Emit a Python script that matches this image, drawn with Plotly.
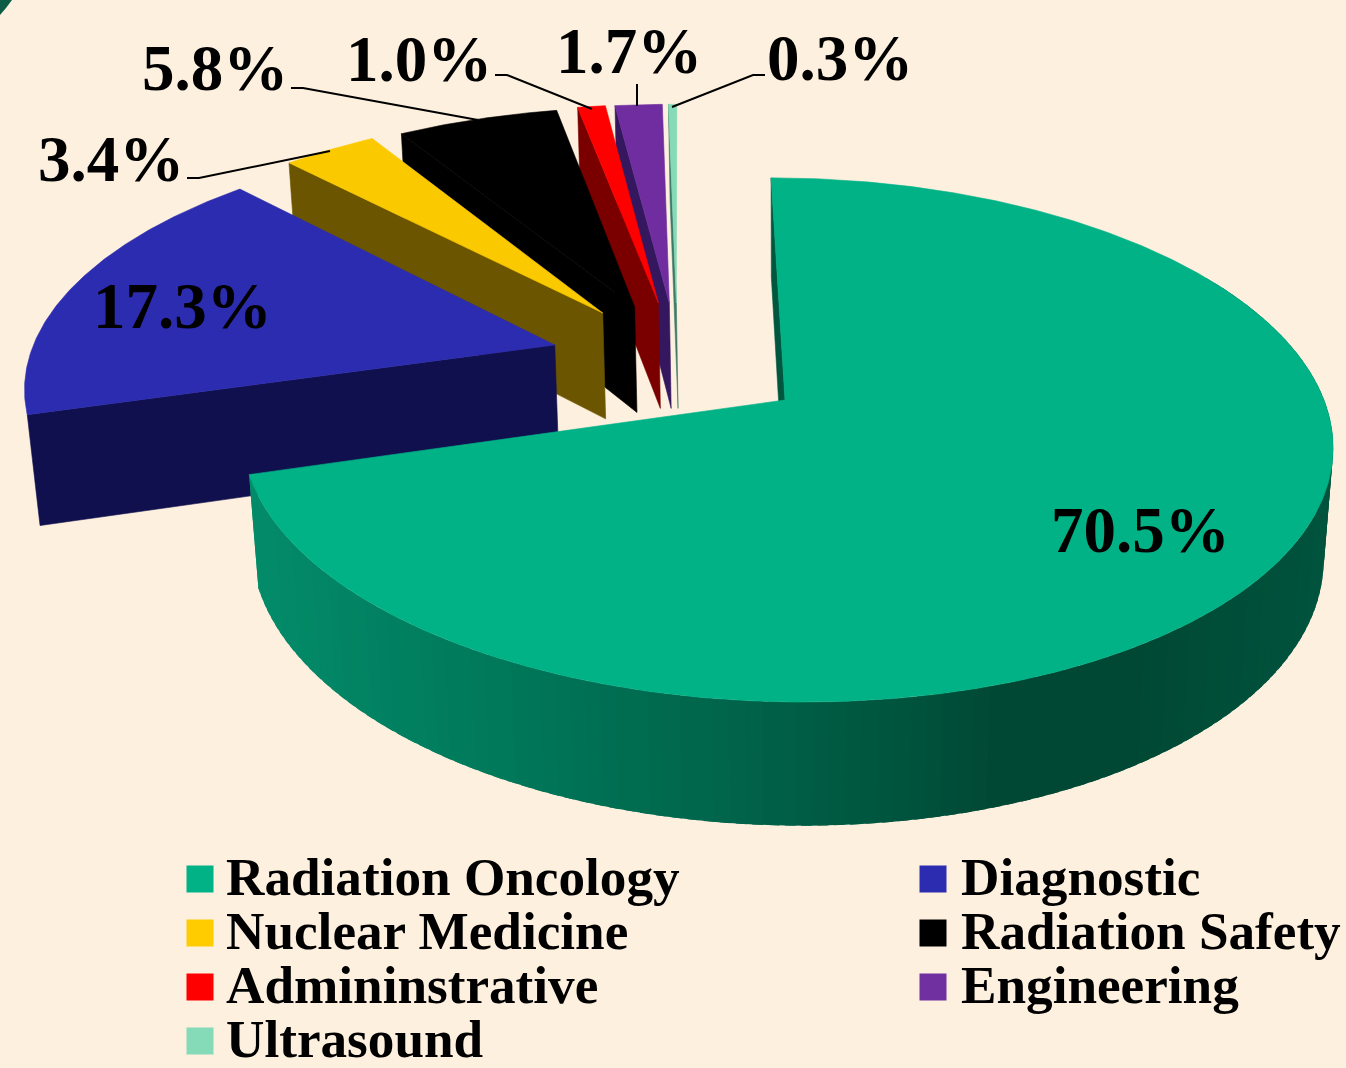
import math
import plotly.graph_objects as go

# ---- data ----
categories = ["Radiation Oncology", "Diagnostic", "Nuclear Medicine", "Radiation Safety",
              "Admininstrative", "Engineering", "Ultrasound"]
percent = [70.5, 17.3, 3.4, 5.8, 1.0, 1.7, 0.3]
labels = ["70.5%", "17.3%", "3.4%", "5.8%", "1.0%", "1.7%", "0.3%"]

# ---- style ----
top_colors = ["#01B287", "#2C2CB0", "#FBC900", "#000000", "#FF0000", "#6F2DA0", "#85DAB8"]
side_colors = ["#00573F", "#10104E", "#6B5500", "#000000", "#7A0000", "#35175F", "#3F7A68"]
swatch_colors = ["#01B287", "#2C2CB0", "#FFCC00", "#000000", "#FF0000", "#7030A0", "#85DAB8"]
BG = "#FDF0DF"
FONT = "Liberation Serif"

# explode offsets of each slice in the pie's own plane (unit radius)
pull_u = [0.0, -0.435, -0.346, -0.284, -0.2374, -0.2158, -0.202]
pull_v = [0.0, -0.222, -0.3585, -0.385, -0.402, -0.402, -0.402]

# perspective projection of the tilted pie
CX, CY, RX, RY, K, SKEW, DEPTH, DEPTH_W = 785.0, 400.0, 539.0, 256.0, 0.1525, 0.0625, 112.0, 0.017


def project(u, v, lower=False):
    w = 1 - K * v
    if lower:
        w += DEPTH_W
        return CX + RX * u / w + SKEW * RY * v / w, CY + (RY * v + DEPTH) / w
    return CX + RX * u / w + SKEW * RY * v / w, CY + RY * v / w


def rim(a):
    r = math.radians(a)
    return math.sin(r), -math.cos(r)


def poly(fig, pts, color, width=0.6):
    fig.add_trace(go.Scatter(
        x=[p[0] for p in pts] + [pts[0][0]], y=[p[1] for p in pts] + [pts[0][1]],
        mode="lines", fill="toself", fillcolor=color,
        line=dict(color=color, width=width), hoverinfo="skip", showlegend=False))


# rim shade of the large slice, by screen x
shade_x = [250, 500, 750, 900, 1000, 1120, 1333]
shade_rgb = [(4, 140, 106), (0, 120, 90), (0, 98, 73), (0, 84, 62), (0, 72, 52), (0, 72, 52), (0, 84, 62)]


def shade(x):
    x = min(max(x, shade_x[0]), shade_x[-1])
    for i in range(len(shade_x) - 1):
        if x <= shade_x[i + 1]:
            t = (x - shade_x[i]) / (shade_x[i + 1] - shade_x[i])
            c = [shade_rgb[i][j] + t * (shade_rgb[i + 1][j] - shade_rgb[i][j]) for j in range(3)]
            return "rgb(%d,%d,%d)" % tuple(c)
    return "rgb(0,84,62)"


total = sum(percent)
starts, ends = [], []
acc = 0.0
for p in percent:
    starts.append(360 * acc / total)
    acc += p
    ends.append(360 * acc / total)

fig = go.Figure()

# back to front: small slices first, large slice last
for i in range(len(percent) - 1, -1, -1):
    pu, pv = pull_u[i], pull_v[i]
    a0, a1 = starts[i], ends[i]
    n = max(4, int((a1 - a0) / 0.5))
    arc = [a0 + (a1 - a0) * j / n for j in range(n + 1)]
    su, sv = rim(a0)
    su, sv = su + pu, sv + pv
    # radial cut face of the slice
    poly(fig, [project(su, sv), project(pu, pv), project(pu, pv, True), project(su, sv, True)], side_colors[i])
    if i == 0:
        # outer wall, shaded strip by strip; each strip laps over the previous one
        wall = [a for a in arc[::3] if a > 60] + [a1]
        for a, b in zip(wall[:-1], wall[1:]):
            ua, va = rim(a - 1.0)
            ub, vb = rim(b)
            pa, pb = project(ua, va), project(ub, vb)
            poly(fig, [pa, pb, project(ub, vb, True), project(ua, va, True)], shade((pa[0] + pb[0]) / 2), width=0)
    top = [project(pu, pv)]
    for a in arc:
        u, v = rim(a)
        top.append(project(u + pu, v + pv))
    poly(fig, top, top_colors[i])

# legend swatches
sw_x = [200, 933, 200, 933, 200, 933, 200]
sw_y = [879, 879, 933, 933, 987, 987, 1041]
txt_x = [224, 959, 224, 959, 224, 959, 224]
txt_y = [877.5, 877.5, 931.5, 931.5, 985.5, 985.5, 1039.5]
for i, c in enumerate(categories):
    fig.add_trace(go.Scatter(x=[sw_x[i]], y=[sw_y[i]], mode="markers",
                             marker=dict(symbol="square", size=27, color=swatch_colors[i], line=dict(width=0)),
                             hoverinfo="skip", showlegend=False))

annotations = []
for i, c in enumerate(categories):
    annotations.append(dict(x=txt_x[i], y=txt_y[i], text=f"<b>{c}</b>", xanchor="left", yanchor="middle",
                            showarrow=False, xref="x", yref="y",
                            font=dict(family=FONT, size=53.2, color="black")))
label_x = [1140.5, 182.5, 110.5, 215, 419, 629, 840]
label_y = [530, 306, 159, 68, 58.5, 51, 58]
for i, t in enumerate(labels):
    annotations.append(dict(x=label_x[i], y=label_y[i], text=f"<b>{t}</b>", xanchor="center", yanchor="middle",
                            showarrow=False, xref="x", yref="y",
                            font=dict(family=FONT, size=65, color="black")))

line = dict(color="black", width=2)
shapes = [
    dict(type="path", path="M187,178 L199,178 L330,151", line=line, xref="x", yref="y"),
    dict(type="path", path="M291,88 L303,88 L478,120", line=line, xref="x", yref="y"),
    dict(type="path", path="M495,75 L507,75 L592,109", line=line, xref="x", yref="y"),
    dict(type="path", path="M637,84 L637,106", line=line, xref="x", yref="y"),
    dict(type="path", path="M765,75 L753,75 L672,107", line=line, xref="x", yref="y"),
    dict(type="path", path="M0,0 L12,0 L6,8 L0,15 Z", fillcolor="#0C5C46", line=dict(width=0), xref="x", yref="y"),
]

fig.update_layout(
    width=1346, height=1068, margin=dict(l=0, r=0, t=0, b=0),
    paper_bgcolor=BG, plot_bgcolor=BG, showlegend=False,
    xaxis=dict(range=[0, 1346], visible=False, fixedrange=True),
    yaxis=dict(range=[1068, 0], visible=False, fixedrange=True),
    annotations=annotations, shapes=shapes,
)
fig.write_html("out.html", config={"displayModeBar": False},
               post_script="document.body.style.margin='0';document.body.style.background='#FDF0DF';")
